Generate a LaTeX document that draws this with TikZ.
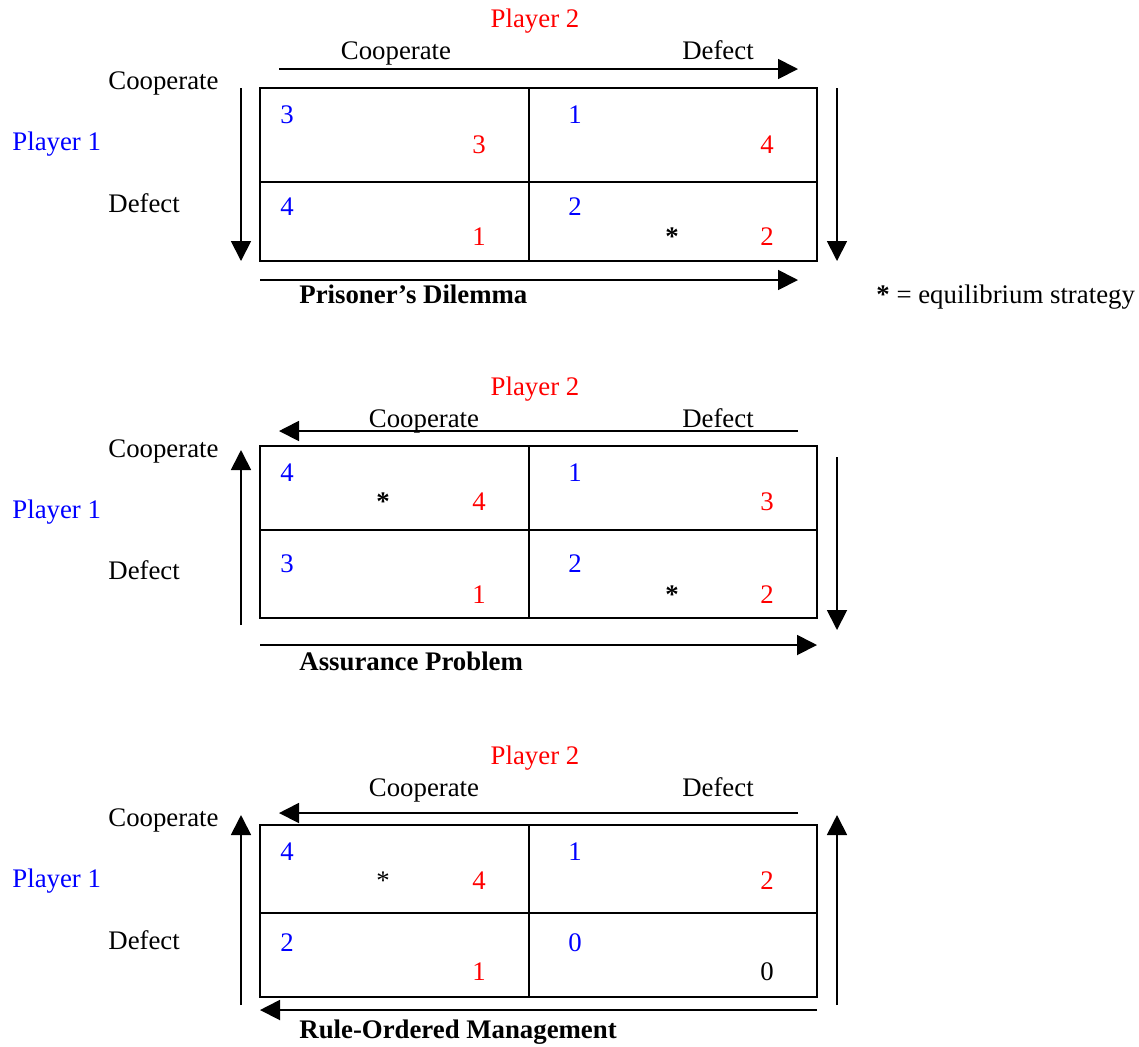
\documentclass[tikz,border=0pt]{standalone}
\usepackage{fontspec}
\setmainfont{Liberation Serif}
\usetikzlibrary{arrows.meta}

\begin{document}
\begin{tikzpicture}[
    x=0.5pt, y=-0.5pt,
    every node/.style={font=\fontsize{13.4}{15}\selectfont, inner sep=0pt},
    rowname/.style={anchor=base west},
    colname/.style={anchor=base},
    pay1/.style={anchor=base, text=blue},
    pay2/.style={anchor=base, text=red},
    eqmark/.style={anchor=base},
    gamename/.style={anchor=base west, font=\fontsize{13.4}{15}\selectfont\bfseries},
    tablerule/.style={line width=0.9pt},
    pref/.style={-{Triangle[length=10pt, width=10pt]}, line width=0.9pt}
]
\useasboundingbox (0,0) rectangle (1139,1046);

% Prisoner's Dilemma
\node[colname, text=red] (pdP2) at (535,27) {Player 2};
\node[colname] (pdC) at (396,59) {Cooperate};
\node[colname] (pdD) at (718,59) {Defect};
\node[rowname] (pdRC) at (108,89) {Cooperate};
\node[rowname] (pdRD) at (108,212) {Defect};
\node[rowname, text=blue] (pdP1) at (12,150) {Player 1};
\coordinate (pdNW) at (260,88);
\coordinate (pdSE) at (817,261);
\draw[tablerule] (pdNW) rectangle (pdSE) (529,88) -- (529,261) (260,182) -- (817,182);
\node[pay1] (pdCC1) at (287,123) {3};
\node[pay2] (pdCC2) at (479,153) {3};
\node[pay1] (pdCD1) at (575,123) {1};
\node[pay2] (pdCD2) at (767,153) {4};
\node[pay1] (pdDC1) at (287,215) {4};
\node[pay2] (pdDC2) at (479,245) {1};
\node[pay1] (pdDD1) at (575,215) {2};
\node[pay2] (pdDD2) at (767,245) {2};
\node[eqmark] (pdEq) at (672,245) {\textbf{*}};
\coordinate (pdT0) at (279,69);
\coordinate (pdT1) at (798,69);
\coordinate (pdB0) at (260,280);
\coordinate (pdB1) at (798,280);
\coordinate (pdL0) at (241,88);
\coordinate (pdL1) at (241,261);
\coordinate (pdR0) at (837,88);
\coordinate (pdR1) at (837,261);
\draw[pref] (pdT0) -- (pdT1);
\draw[pref] (pdB0) -- (pdB1);
\draw[pref] (pdL0) -- (pdL1);
\draw[pref] (pdR0) -- (pdR1);
\node[gamename] (pdName) at (299,303) {Prisoner’s Dilemma};
\node[rowname] (legend) at (876,303) {\textbf{*} = equilibrium strategy};

% Assurance Problem
\node[colname, text=red] (apP2) at (535,395) {Player 2};
\node[colname] (apC) at (424,427) {Cooperate};
\node[colname] (apD) at (718,427) {Defect};
\node[rowname] (apRC) at (108,457) {Cooperate};
\node[rowname] (apRD) at (108,579) {Defect};
\node[rowname, text=blue] (apP1) at (12,518) {Player 1};
\coordinate (apNW) at (260,446);
\coordinate (apSE) at (817,618);
\draw[tablerule] (apNW) rectangle (apSE) (529,446) -- (529,618) (260,530) -- (817,530);
\node[pay1] (apCC1) at (287,481) {4};
\node[pay2] (apCC2) at (479,510) {4};
\node[pay1] (apCD1) at (575,481) {1};
\node[pay2] (apCD2) at (767,510) {3};
\node[pay1] (apDC1) at (287,572) {3};
\node[pay2] (apDC2) at (479,603) {1};
\node[pay1] (apDD1) at (575,572) {2};
\node[pay2] (apDD2) at (767,603) {2};
\node[eqmark] (apEq1) at (383,510) {\textbf{*}};
\node[eqmark] (apEq2) at (672,603) {\textbf{*}};
\coordinate (apT0) at (798,431);
\coordinate (apT1) at (279,431);
\coordinate (apB0) at (260,645);
\coordinate (apB1) at (817,645);
\coordinate (apL0) at (241,625);
\coordinate (apL1) at (241,450);
\coordinate (apR0) at (837,457);
\coordinate (apR1) at (837,630);
\draw[pref] (apT0) -- (apT1);
\draw[pref] (apB0) -- (apB1);
\draw[pref] (apL0) -- (apL1);
\draw[pref] (apR0) -- (apR1);
\node[gamename] (apName) at (299,670) {Assurance Problem};

% Rule-Ordered Management
\node[colname, text=red] (rmP2) at (535,764) {Player 2};
\node[colname] (rmC) at (424,796) {Cooperate};
\node[colname] (rmD) at (718,796) {Defect};
\node[rowname] (rmRC) at (108,826) {Cooperate};
\node[rowname] (rmRD) at (108,949) {Defect};
\node[rowname, text=blue] (rmP1) at (12,887) {Player 1};
\coordinate (rmNW) at (260,825);
\coordinate (rmSE) at (817,997);
\draw[tablerule] (rmNW) rectangle (rmSE) (529,825) -- (529,997) (260,913) -- (817,913);
\node[pay1] (rmCC1) at (287,860) {4};
\node[pay2] (rmCC2) at (479,889) {4};
\node[pay1] (rmCD1) at (575,860) {1};
\node[pay2] (rmCD2) at (767,889) {2};
\node[pay1] (rmDC1) at (287,951) {2};
\node[pay2] (rmDC2) at (479,980) {1};
\node[pay1] (rmDD1) at (575,951) {0};
\node[colname] (rmDD2) at (767,980) {0};
\node[eqmark] (rmEq) at (383,889) {*};
\coordinate (rmT0) at (798,813);
\coordinate (rmT1) at (279,813);
\coordinate (rmB0) at (817,1010);
\coordinate (rmB1) at (260,1010);
\coordinate (rmL0) at (241,1005);
\coordinate (rmL1) at (241,815);
\coordinate (rmR0) at (837,1005);
\coordinate (rmR1) at (837,815);
\draw[pref] (rmT0) -- (rmT1);
\draw[pref] (rmB0) -- (rmB1);
\draw[pref] (rmL0) -- (rmL1);
\draw[pref] (rmR0) -- (rmR1);
\node[gamename] (rmName) at (299,1038) {Rule-Ordered Management};
\end{tikzpicture}
\end{document}
